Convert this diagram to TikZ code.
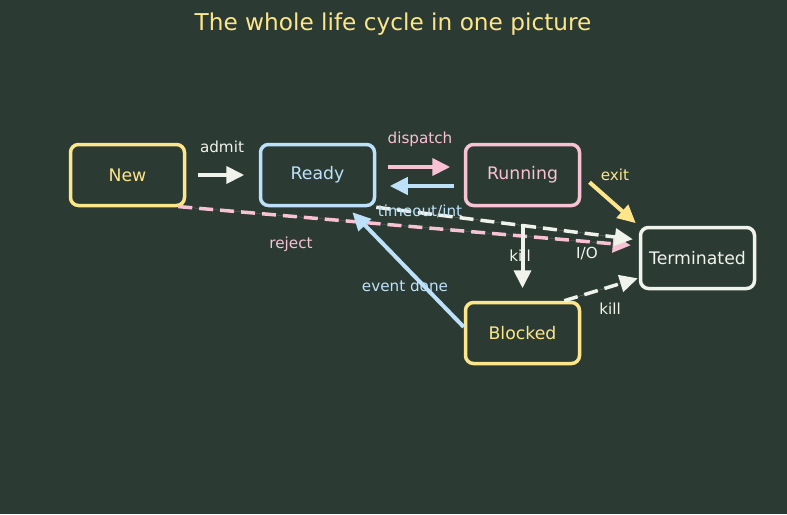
\documentclass[tikz,border=0pt]{standalone}
\usepackage{fontspec}
\setmainfont{DejaVu Sans}
\usetikzlibrary{arrows.meta}

\definecolor{bgdark}{RGB}{43,59,52}
\definecolor{cyellow}{RGB}{253,230,138}
\definecolor{cblue}{RGB}{190,225,250}
\definecolor{cpink}{RGB}{248,194,212}
\definecolor{cwhite}{RGB}{240,243,236}

\begin{document}
\begin{tikzpicture}[
  x=1pt,y=-1pt,
  >={Triangle[length=18pt,width=17pt]},
  state/.style={rectangle, rounded corners=8pt, line width=3.5pt, minimum width=114pt, minimum height=61pt, font=\fontsize{17.3}{21}\selectfont},
  flow/.style={->, line width=4pt},
  dflow/.style={->, line width=3.5pt, dash pattern=on 14pt off 7pt},
  lbl/.style={font=\fontsize{15.2}{18}\selectfont},
  heading/.style={font=\fontsize{23.2}{28}\selectfont, text=cyellow}
]

% Canvas
\fill[bgdark] (0,0) rectangle (787,514);
\useasboundingbox (0,0) rectangle (787,514);

\node[heading] (title) at (393,24) {The whole life cycle in one picture};

% States
\node[state, draw=cyellow, text=cyellow] (new) at (127.5,175) {New};
\node[state, draw=cblue, text=cblue] (rdy) at (317.5,175) {Ready};
\node[state, draw=cpink, text=cpink] (run) at (522.5,175) {Running};
\node[state, draw=cwhite, text=cwhite] (term) at (697.5,258) {Terminated};
\node[state, draw=cyellow, text=cyellow] (blk) at (522.5,333) {Blocked};

% Dashed transitions
\draw[dflow, draw=cpink, fill=cpink, shorten <=-8pt, shorten >=8pt] (new.south east) -- ([yshift=12pt]term.west);
\draw[dflow, draw=cwhite, fill=cwhite, shorten >=6pt] (rdy.south east) -- ([yshift=18pt]term.west);
\draw[dflow, draw=cwhite, fill=cwhite, shorten >=1pt] ([xshift=-17pt]blk.north east) -- ([yshift=-20pt]term.west);

% Solid transitions
\draw[flow, draw=cwhite, fill=cwhite, shorten <=11.5pt, shorten >=14.5pt] (new.east) -- (rdy.west);
\draw[flow, draw=cpink, fill=cpink, shorten <=11.5pt, shorten >=13.5pt] ([yshift=8pt]rdy.east) -- ([yshift=8pt]run.west);
\draw[flow, draw=cblue, fill=cblue, shorten <=9.5pt, shorten >=13.5pt] ([yshift=-11pt]run.west) -- ([yshift=-11pt]rdy.east);
\draw[flow, draw=cyellow, fill=cyellow, shorten <=11pt, shorten >=4pt] (run.east) -- (term.north west);
\coordinate (split) at (522.5,224);
\draw[flow, draw=cwhite, fill=cwhite, shorten >=12.5pt] (split) -- (blk.north);
\draw[flow, draw=cblue, fill=cblue, shorten >=7pt] ([yshift=6pt]blk.west) -- ([xshift=30pt]rdy.south);

% Transition labels
\node[lbl, text=cwhite] (ladmit) at (222,147) {admit};
\node[lbl, text=cpink] (ldisp) at (420,139) {dispatch};
\node[lbl, text=cblue] (ltime) at (420,211) {timeout/int};
\node[lbl, text=cyellow] (lexit) at (615,175) {exit};
\node[lbl, text=cpink] (lrej) at (291,244) {reject};
\node[lbl, text=cwhite] (lkill) at (520,256) {kill};
\node[lbl, text=cwhite] (lio) at (587,254) {I/O};
\node[lbl, text=cblue] (levent) at (405,286) {event done};
\node[lbl, text=cwhite] (lkill2) at (610,309) {kill};

\end{tikzpicture}
\end{document}
